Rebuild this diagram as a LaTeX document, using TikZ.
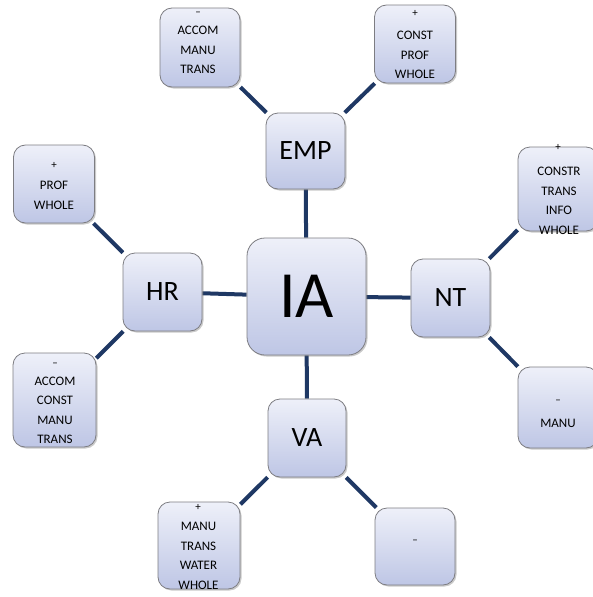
\documentclass[tikz,border=0pt]{standalone}
\usepackage{fontspec}
\setmainfont{Carlito}
\usetikzlibrary{shadows,backgrounds}
\definecolor{linkc}{RGB}{31,56,100}
\definecolor{boxtop}{RGB}{238,240,249}
\definecolor{boxbot}{RGB}{190,198,229}
\definecolor{boxline}{RGB}{125,125,130}
\tikzset{
  box/.style={rectangle, rounded corners=12pt, draw=boxline, line width=0.8pt,
    top color=boxtop, bottom color=boxbot, inner sep=0pt,
    drop shadow={shadow xshift=1.5pt, shadow yshift=-1.5pt, opacity=0.35, fill=black!60}},
  bigbox/.style={box, rounded corners=18pt, font=\fontsize{66}{66}\selectfont},
  midbox/.style={box, font=\fontsize{28}{28}\selectfont},
  words/.style={align=center, inner sep=0pt, font=\fontsize{13}{19.5}\selectfont},
  sign/.style={inner sep=0pt, font=\fontsize{11}{11}\selectfont},
  link/.style={draw=linkc, line width=4pt}
}
\begin{document}
\begin{tikzpicture}[x=1pt,y=-1pt]
\useasboundingbox (0,0) rectangle (592,597);
% central and middle boxes
\node[bigbox, minimum width=119pt, minimum height=117pt] (ia) at (306.5,296.5) {IA};
\node[midbox, minimum width=79pt, minimum height=76pt] (emp) at (305.5,151) {EMP};
\node[midbox, minimum width=79pt, minimum height=78pt] (hr) at (162.5,292) {HR};
\node[midbox, minimum width=79pt, minimum height=78pt] (nt) at (450.5,298) {NT};
\node[midbox, minimum width=78pt, minimum height=78pt] (va) at (307,438) {VA};
% outer boxes
\node[box, minimum width=80pt, minimum height=79pt] (b1) at (200,47.5) {};
\node[box, minimum width=81pt, minimum height=78pt] (b2) at (415,44) {};
\node[box, minimum width=81pt, minimum height=78pt] (b3) at (54,184) {};
\node[box, minimum width=80pt, minimum height=84pt] (b4) at (558,189) {};
\node[box, minimum width=83pt, minimum height=94pt] (b5) at (54.5,400) {};
\node[box, minimum width=80pt, minimum height=81pt] (b6) at (558,407.5) {};
\node[box, minimum width=82pt, minimum height=87pt] (b7) at (199,545.5) {};
\node[box, minimum width=80pt, minimum height=77pt] (b8) at (415,546.5) {};
% texts of outer boxes
\node[sign] (s1) at (198,14) {–};
\node[words] (t1) at (198,50) {ACCOM\\MANU\\TRANS};
\node[sign] (s2) at (415,13) {+};
\node[words] (t2) at (415,55) {CONST\\PROF\\WHOLE};
\node[sign] (s3) at (54,165) {+};
\node[words] (t3) at (54,195.5) {PROF\\WHOLE};
\node[sign] (s4) at (558,147) {+};
\node[words] (t4) at (559,201) {CONSTR\\TRANS\\INFO\\WHOLE};
\node[sign] (s5) at (55,365) {–};
\node[words] (t5) at (55,410.5) {ACCOM\\CONST\\MANU\\TRANS};
\node[sign] (s6) at (558,402) {–};
\node[words] (t6) at (558,423) {MANU};
\node[sign] (s7) at (198,507) {+};
\node[words] (t7) at (198.5,556) {MANU\\TRANS\\WATER\\WHOLE};
\node[sign] (s8) at (415,542) {–};
% connectors
\begin{scope}[on background layer]
\draw[link] (ia) -- (emp);
\draw[link] (ia) -- (hr);
\draw[link] (ia) -- (nt);
\draw[link] (ia) -- (va);
\draw[link] (emp) -- (b1);
\draw[link] (emp) -- (b2);
\draw[link] (hr) -- (b3);
\draw[link] (hr) -- (b5);
\draw[link] (nt) -- (b4);
\draw[link] (nt) -- (b6);
\draw[link] (va) -- (b7);
\draw[link] (va) -- (b8);
\end{scope}
\end{tikzpicture}
\end{document}
